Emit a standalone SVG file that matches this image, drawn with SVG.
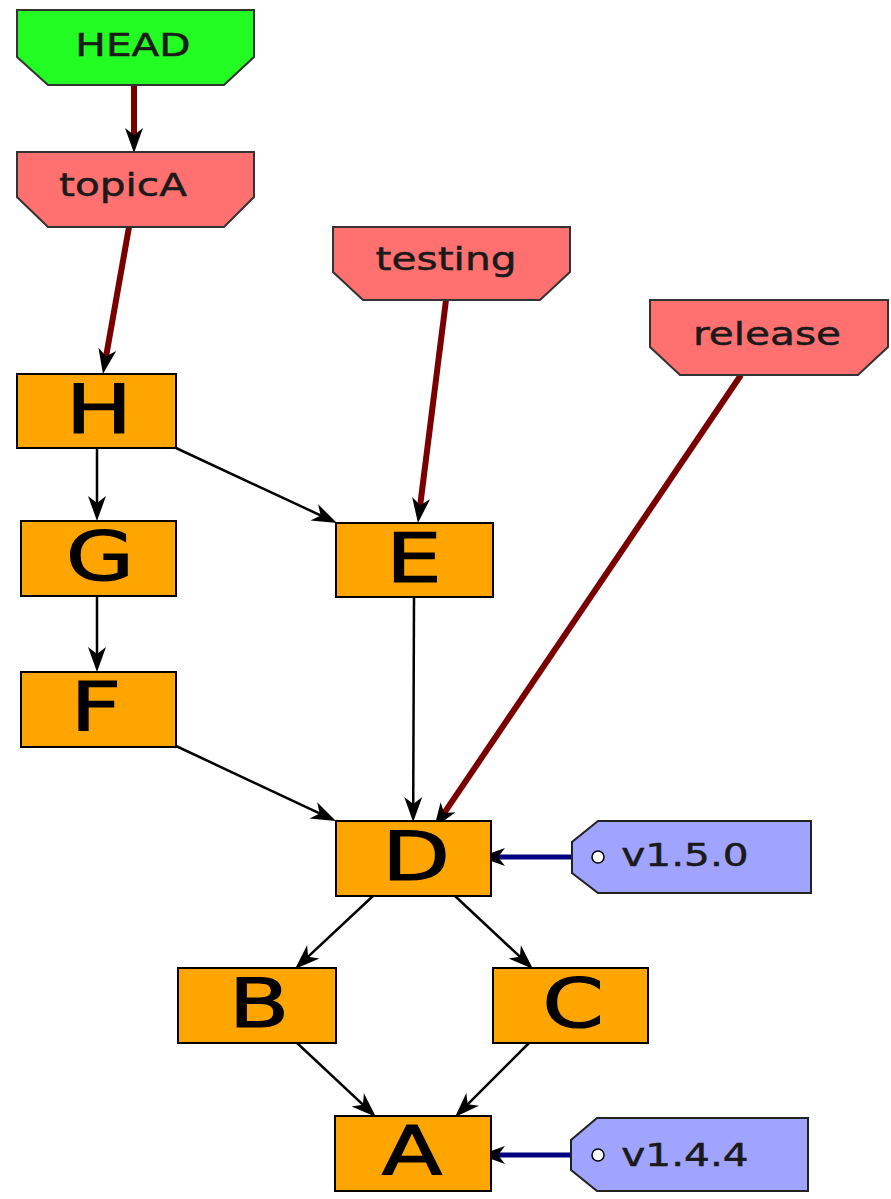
<svg xmlns="http://www.w3.org/2000/svg" width="891" height="1199" viewBox="0 0 891 1199">
<style>
.commit rect{fill:#ffa500;stroke:#000;stroke-width:2}
.ref polygon{stroke:#333;stroke-width:2}
.branch polygon{fill:#ff7070}
.head polygon{fill:#22fc22}
.tag polygon{fill:#a0a4ff;stroke:#222;stroke-width:2}
.tag circle{fill:#fff;stroke:#000;stroke-width:1.5}
text{font-family:"DejaVu Sans","Liberation Sans",sans-serif;fill:#000;text-anchor:middle}
.big{font-size:68px;stroke:#000;stroke-width:1.2}
.lbl{font-size:32px;fill:#1a1a1a;stroke:#1a1a1a;stroke-width:0.5}
.e{fill:none;stroke:#000;stroke-width:2.5}
.er{fill:none;stroke:#7a0000;stroke-width:6}
.eb{fill:none;stroke:#000080;stroke-width:5}
</style>
<defs>
<marker id="ak" markerUnits="userSpaceOnUse" viewBox="-14 -11 30 22" markerWidth="30" markerHeight="22" refX="0" refY="0" orient="auto"><path d="M14,0 L-11,-9 L-4,0 L-11,9 Z" fill="#000"/></marker>
<marker id="ar" markerUnits="userSpaceOnUse" viewBox="-14 -11 30 22" markerWidth="30" markerHeight="22" refX="0" refY="0" orient="auto"><path d="M14,0 L-11,-9 L-4,0 L-11,9 Z" fill="#000"/></marker>
<marker id="ab" markerUnits="userSpaceOnUse" viewBox="-14 -11 30 22" markerWidth="30" markerHeight="22" refX="0" refY="0" orient="auto"><path d="M14,0 L-11,-9 L-4,0 L-11,9 Z" fill="#000"/></marker>
</defs>
<g id="connectors">
<line class="er" x1="134" y1="85" x2="134" y2="139" marker-end="url(#ar)"/>
<line class="er" x1="129" y1="227" x2="105.4" y2="360.2" marker-end="url(#ar)"/>
<line class="er" x1="446" y1="300" x2="419.7" y2="509.1" marker-end="url(#ar)"/>
<line class="er" x1="741" y1="375" x2="441.9" y2="816.4" marker-end="url(#ar)"/>
<line class="eb" x1="572" y1="857" x2="494" y2="857" marker-end="url(#ab)"/>
<line class="eb" x1="571" y1="1155" x2="494" y2="1155" marker-end="url(#ab)"/>
<line class="e" x1="97" y1="448" x2="97" y2="507" marker-end="url(#ak)"/>
<line class="e" x1="97" y1="596" x2="97" y2="658" marker-end="url(#ak)"/>
<line class="e" x1="176" y1="448" x2="324.3" y2="517.1" marker-end="url(#ak)"/>
<line class="e" x1="414" y1="597" x2="413.2" y2="808" marker-end="url(#ak)"/>
<line class="e" x1="176" y1="746" x2="323.3" y2="815.1" marker-end="url(#ak)"/>
<line class="e" x1="373" y1="896" x2="305.2" y2="959.4" marker-end="url(#ak)"/>
<line class="e" x1="455" y1="896" x2="522.8" y2="959.4" marker-end="url(#ak)"/>
<line class="e" x1="296" y1="1042" x2="365.8" y2="1107.4" marker-end="url(#ak)"/>
<line class="e" x1="530" y1="1042" x2="464.9" y2="1107.1" marker-end="url(#ak)"/>
</g>
<g id="HEAD" class="ref head"><polygon points="17,10 254,10 254,57 224,85 48,85 17,57"/><text class="lbl" transform="translate(133,56) scale(1.27,1)">HEAD</text></g>
<g id="topicA" class="ref branch"><polygon points="17,152 254,152 254,197 224,227 48,227 17,197"/><text class="lbl" transform="translate(123,196) scale(1.27,1)">topicA</text></g>
<g id="testing" class="ref branch"><polygon points="333,227 570,227 570,272 540,300 363,300 333,272"/><text class="lbl" transform="translate(446,270) scale(1.27,1)">testing</text></g>
<g id="release" class="ref branch"><polygon points="650,300 888,300 888,347 858,375 680,375 650,347"/><text class="lbl" transform="translate(767,345) scale(1.27,1)">release</text></g>
<g id="H" class="commit"><rect x="17" y="374" width="159" height="74"/><text class="big" transform="translate(99,433) scale(1.3,1)">H</text></g>
<g id="G" class="commit"><rect x="21" y="521" width="155" height="75"/><text class="big" transform="translate(100,580) scale(1.3,1)">G</text></g>
<g id="F" class="commit"><rect x="21" y="672" width="155" height="75"/><text class="big" transform="translate(96,731) scale(1.3,1)">F</text></g>
<g id="E" class="commit"><rect x="336" y="523" width="157" height="74"/><text class="big" transform="translate(414,582) scale(1.3,1)">E</text></g>
<g id="D" class="commit"><rect x="336" y="821" width="155" height="75"/><text class="big" transform="translate(416,880) scale(1.3,1)">D</text></g>
<g id="B" class="commit"><rect x="178" y="968" width="158" height="75"/><text class="big" transform="translate(259,1027) scale(1.3,1)">B</text></g>
<g id="C" class="commit"><rect x="493" y="968" width="155" height="75"/><text class="big" transform="translate(573,1027) scale(1.3,1)">C</text></g>
<g id="A" class="commit"><rect x="335" y="1116" width="156" height="75"/><text class="big" transform="translate(412,1175) scale(1.3,1)">A</text></g>
<g id="v1.5.0" class="tag"><polygon points="598,821 811,821 811,893 598,893 572,873 572,842"/><circle cx="598" cy="857" r="6"/><text class="lbl" transform="translate(685,866) scale(1.27,1)">v1.5.0</text></g>
<g id="v1.4.4" class="tag"><polygon points="597,1118 808,1118 808,1191 597,1191 571,1170 571,1140"/><circle cx="598" cy="1155" r="6"/><text class="lbl" transform="translate(685,1166) scale(1.27,1)">v1.4.4</text></g>
</svg>
